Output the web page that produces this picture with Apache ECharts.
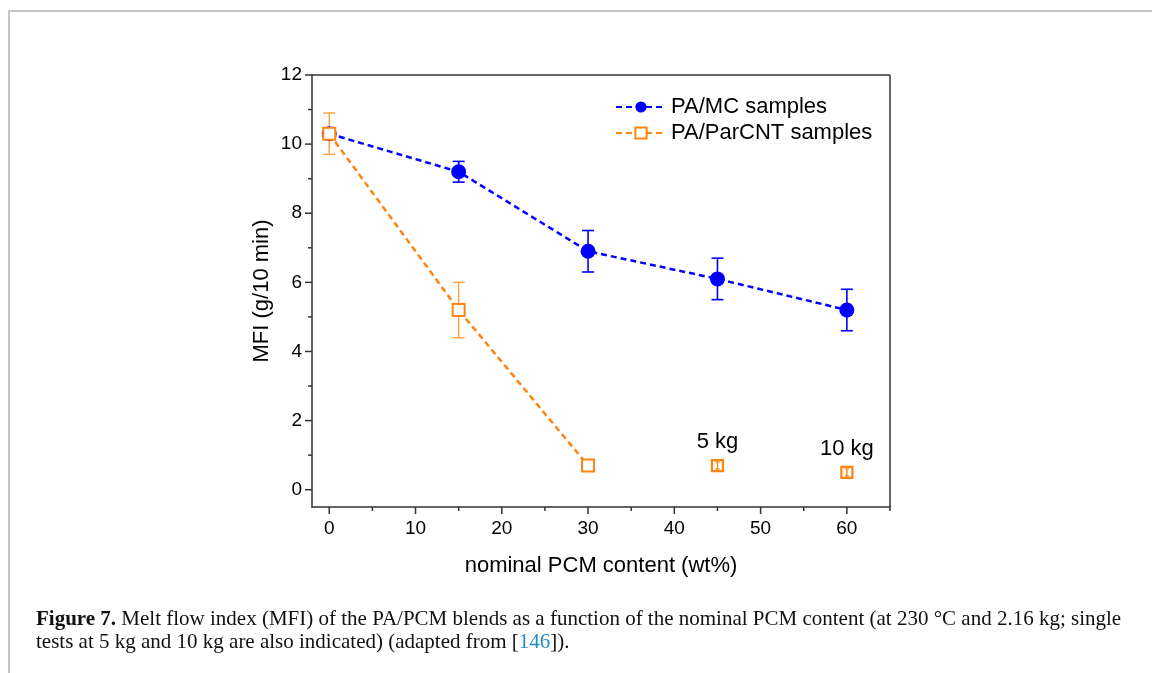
<!DOCTYPE html>
<html>
<head>
<meta charset="utf-8">
<script src="https://cdn.jsdelivr.net/npm/echarts@6/dist/echarts.min.js"></script>
<style>
html,body{margin:0;padding:0;background:#fff;}
#c{width:1153px;height:673px;}
</style>
</head>
<body>
<div id="c"></div>
<script>
// Data
var mcX = [0, 15, 30, 45, 60];
var mcY = [10.3, 9.2, 6.9, 6.1, 5.2];
var mcErr = [0, 0.3, 0.6, 0.6, 0.6];
var cntX = [0, 15, 30];
var cntY = [10.3, 5.2, 0.7];
var cntErr = [0.6, 0.8, 0.1];
var loadX = [45, 60];
var loadY = [0.7, 0.5];
var loadErr = [0.1, 0.1];
var loadLabels = ['5 kg', '10 kg'];
var xTicks = [0, 10, 20, 30, 40, 50, 60];
var yTicks = [0, 2, 4, 6, 8, 10, 12];

var BLUE = '#0000ff';
var ORANGE = '#ff8410';
var ORANGE_ERR = '#ffa040';
var SANS = 'Liberation Sans, Arial, sans-serif';
var SERIF = 'Liberation Serif, Times New Roman, serif';

function pairs(xs, ys) { return xs.map(function (x, i) { return [x, ys[i]]; }); }
function errData(xs, ys, es) { return xs.map(function (x, i) { return [x, ys[i] - es[i], ys[i] + es[i]]; }); }

function errSeries(data, color, w, cap) {
  return {
    type: 'custom',
    silent: true,
    z: 1,
    data: data,
    renderItem: function (params, api) {
      var x = api.value(0);
      var lo = api.coord([x, api.value(1)]);
      var hi = api.coord([x, api.value(2)]);
      var st = { stroke: color, lineWidth: w };
      return {
        type: 'group',
        children: [
          { type: 'line', shape: { x1: lo[0], y1: lo[1], x2: hi[0], y2: hi[1] }, style: st },
          { type: 'line', shape: { x1: lo[0] - cap, y1: lo[1], x2: lo[0] + cap, y2: lo[1] }, style: st },
          { type: 'line', shape: { x1: hi[0] - cap, y1: hi[1], x2: hi[0] + cap, y2: hi[1] }, style: st }
        ]
      };
    }
  };
}

var chart = echarts.init(document.getElementById('c'), null, { renderer: 'canvas' });

chart.setOption({
  backgroundColor: '#fff',
  animation: false,
  textStyle: { fontFamily: SANS },
  grid: { left: 312, top: 75, right: 263, bottom: 166, show: false },
  legend: {
    data: ['PA/MC samples', 'PA/ParCNT samples'],
    orient: 'vertical',
    left: 610,
    top: 91,
    itemWidth: 50,
    itemHeight: 14,
    itemGap: 4,
    textStyle: { fontFamily: SANS, fontSize: 22, color: '#000', padding: [0, 0, 0, 0] }
  },
  xAxis: {
    type: 'value',
    min: -2, max: 65,
    interval: 5,
    name: 'nominal PCM content (wt%)',
    nameLocation: 'middle',
    nameGap: 48,
    nameTextStyle: { fontFamily: SANS, fontSize: 22, color: '#000' },
    axisLine: { show: true, onZero: false, lineStyle: { color: '#333', width: 1.5 } },
    axisTick: { show: false },
    axisLabel: { show: false },
    splitLine: { show: false }
  },
  yAxis: {
    type: 'value',
    min: -0.5, max: 12,
    name: 'MFI (g/10 min)',
    nameLocation: 'middle',
    nameGap: 39,
    nameTextStyle: { fontFamily: SANS, fontSize: 22, color: '#000' },
    axisLine: { show: true, onZero: false, lineStyle: { color: '#333', width: 1.5 } },
    axisTick: { show: false },
    axisLabel: { show: false },
    splitLine: { show: false }
  },
  series: [
    errSeries(errData(mcX, mcY, mcErr), BLUE, 1.6, 6),
    errSeries(errData(cntX, cntY, cntErr), ORANGE_ERR, 1.4, 6),
    errSeries(errData(loadX, loadY, loadErr), ORANGE, 1.4, 2),
    {
      name: 'PA/MC samples',
      type: 'line',
      z: 3,
      data: pairs(mcX, mcY),
      symbol: 'circle',
      symbolSize: 15,
      itemStyle: { color: BLUE },
      lineStyle: { color: BLUE, width: 2.5, type: [6, 4] }
    },
    {
      name: 'PA/ParCNT samples',
      type: 'line',
      z: 4,
      data: pairs(cntX, cntY),
      symbol: 'rect',
      symbolSize: 12,
      showAllSymbol: true,
      itemStyle: { color: '#fff', borderColor: ORANGE, borderWidth: 2 },
      lineStyle: { color: ORANGE, width: 2.5, type: [6, 4] }
    },
    {
      name: 'loads',
      type: 'scatter',
      z: 4,
      data: pairs(loadX, loadY),
      symbol: 'rect',
      symbolSize: 11,
      itemStyle: { color: 'rgba(255,255,255,0)', borderColor: ORANGE, borderWidth: 2.2, opacity: 1 },
      label: {
        show: true,
        position: 'top',
        distance: 6,
        fontFamily: SANS,
        fontSize: 22,
        color: '#000',
        opacity: 1,
        formatter: function (p) { return loadLabels[p.dataIndex]; }
      }
    }
  ]
});

// axis ticks & labels drawn from the axis scale
var g = [];
var TF = '19px ' + SANS;
xTicks.forEach(function (v) {
  var p = chart.convertToPixel({ gridIndex: 0 }, [v, -0.5]);
  g.push({ type: 'line', shape: { x1: p[0], y1: p[1], x2: p[0], y2: p[1] + 7 }, style: { stroke: '#333', lineWidth: 1.5 } });
  g.push({ type: 'text', x: p[0], y: p[1] + 12, style: { text: String(v), fill: '#000', font: TF, textAlign: 'center', textVerticalAlign: 'top' } });
});
[5, 15, 25, 35, 45, 55, 65].forEach(function (v) {
  var p = chart.convertToPixel({ gridIndex: 0 }, [v, -0.5]);
  g.push({ type: 'line', shape: { x1: p[0], y1: p[1], x2: p[0], y2: p[1] + 4 }, style: { stroke: '#333', lineWidth: 1.5 } });
});
yTicks.forEach(function (v) {
  var p = chart.convertToPixel({ gridIndex: 0 }, [-2, v]);
  g.push({ type: 'line', shape: { x1: p[0], y1: p[1], x2: p[0] - 7, y2: p[1] }, style: { stroke: '#333', lineWidth: 1.5 } });
  g.push({ type: 'text', x: p[0] - 10, y: p[1], style: { text: String(v), fill: '#000', font: TF, textAlign: 'right', textVerticalAlign: 'middle' } });
});
[1, 3, 5, 7, 9, 11].forEach(function (v) {
  var p = chart.convertToPixel({ gridIndex: 0 }, [-2, v]);
  g.push({ type: 'line', shape: { x1: p[0], y1: p[1], x2: p[0] - 4, y2: p[1] }, style: { stroke: '#333', lineWidth: 1.5 } });
});
// top and right frame lines of the plot
var tl = chart.convertToPixel({ gridIndex: 0 }, [-2, 12]);
var br = chart.convertToPixel({ gridIndex: 0 }, [65, -0.5]);
g.push({ type: 'line', shape: { x1: tl[0], y1: tl[1], x2: br[0], y2: tl[1] }, style: { stroke: '#333', lineWidth: 1.5 } });
g.push({ type: 'line', shape: { x1: br[0], y1: tl[1], x2: br[0], y2: br[1] }, style: { stroke: '#333', lineWidth: 1.5 } });
// page frame
g.push({ type: 'line', shape: { x1: 8.5, y1: 11, x2: 1152, y2: 11 }, style: { stroke: '#c4c4c4', lineWidth: 2 } });
g.push({ type: 'line', shape: { x1: 9, y1: 10, x2: 9, y2: 673 }, style: { stroke: '#c4c4c4', lineWidth: 2 } });
// caption
g.push({
  type: 'text', left: 36, top: 609,
  style: {
    rich: {
      b: { font: 'bold 21px ' + SERIF, fill: '#111', lineHeight: 23 },
      n: { font: '21px ' + SERIF, fill: '#111', lineHeight: 23 },
      l: { font: '21px ' + SERIF, fill: '#2a8ac6', lineHeight: 23 }
    },
    text: '{b|Figure 7.}{n| Melt flow index (MFI) of the PA/PCM blends as a function of the nominal PCM content (at 230 °C and 2.16 kg; single}\n{n|tests at 5 kg and 10 kg are also indicated) (adapted from [}{l|146}{n|]).}'
  }
});
chart.setOption({ graphic: g });
</script>
</body>
</html>
